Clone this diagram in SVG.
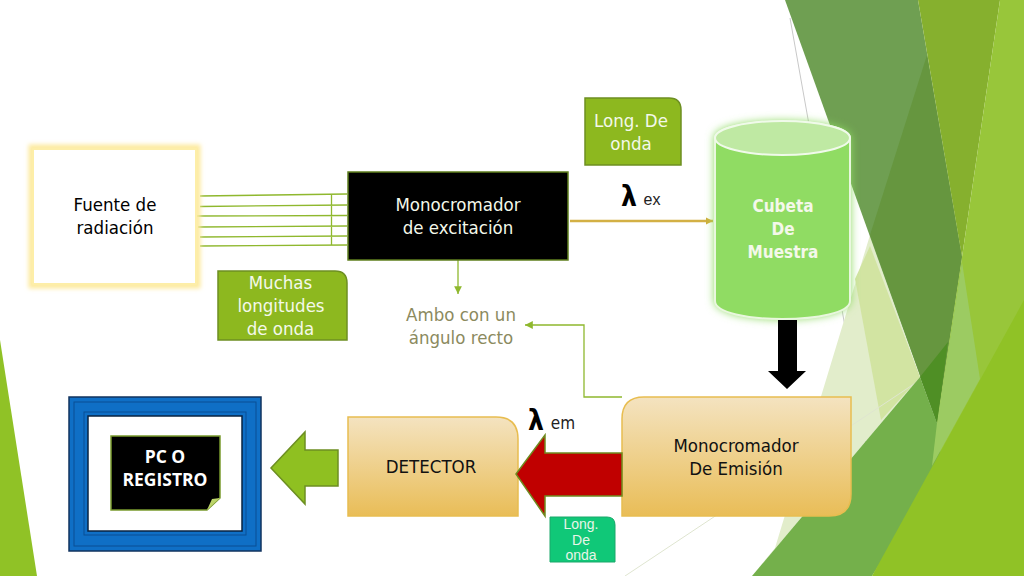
<svg xmlns="http://www.w3.org/2000/svg" width="1024" height="576" viewBox="0 0 1024 576">
<defs>
<style>
text{font-family:"DejaVu Sans Condensed","DejaVu Sans","Noto Sans",sans-serif;font-stretch:condensed;text-anchor:middle;font-size:18.500px}
.w{fill:#f4f8ea}.k{fill:#111}
.ln{stroke:#8fb82e;stroke-width:1.3;fill:none}
.gb{fill:#8db81f;stroke:#6d8f22;stroke-width:1.5}
.gold{fill:url(#gold);stroke:#e8bd50;stroke-width:1.5}
</style>
<linearGradient id="gold" x1="0" y1="0" x2="0" y2="1"><stop offset="0" stop-color="#f4e3c0"/><stop offset="1" stop-color="#e9bd57"/></linearGradient>
<filter id="glowY" x="-20%" y="-20%" width="140%" height="140%"><feGaussianBlur stdDeviation="2"/></filter>
<filter id="glowG" x="-20%" y="-20%" width="140%" height="140%"><feGaussianBlur stdDeviation="4"/></filter>
<marker id="ah" markerWidth="7" markerHeight="7" refX="6" refY="3" orient="auto"><path d="M0,0L6,3L0,6z" fill="#8fb82e"/></marker>
<marker id="ao" markerWidth="4" markerHeight="4" refX="3" refY="1.500" orient="auto"><path d="M0,0L3,1.500L0,3z" fill="#cfae3a"/></marker>
</defs>
<rect width="1024" height="576" fill="#fff"/>
<g id="background">
<path d="M0,340L37,576H0z" fill="#90c226"/>
<path d="M790,18L885,551" stroke="#c8c8c8" stroke-width="1" fill="none"/>
<path d="M870,235L920,377L752,576L775,548z" fill="#e2edcb"/>
<path d="M870,246L920,377L881,420L855,279z" fill="#d2e4a2"/>
<path d="M625,576L920,380" stroke="#dfe5d0" stroke-width="1" fill="none"/>
<path d="M785,0H918L962,257L937,423z" fill="#6f9f52"/>
<path d="M927,55L962,257L937,423L870,235z" fill="#66963f"/>
<path d="M918,0H1000L962,257z" fill="#86b02e"/>
<path d="M1000,0H1024V576H932L937,423L962,257z" fill="#98c63a"/>
<path d="M752,576L920,377L937,423L942,467L872,576z" fill="#74b04b"/>
<path d="M962,262L980,379L932,466L937,423z" fill="#9ccb62"/>
<path d="M920,377L948,342L937,423z" fill="#4f8f25"/>
<path d="M872,576L1024,300V576z" fill="#90c226"/>
</g>
<g id="connectors">
<g stroke="#8fb82e" stroke-width="1.3" fill="none">
<path d="M200,196L347,194M200,206.500L347,205M195,216L347,215.500M198,227L347,226M200,237L347,236M200,246L347,245M331.500,194V245"/>
</g>
<path class="ln" d="M458,260V294" marker-end="url(#ah)"/>
<path class="ln" d="M622,397H584V325H525" marker-end="url(#ah)"/>
<path d="M570,221H713" stroke="#d3b045" stroke-width="2.500" fill="none" marker-end="url(#ao)"/>
</g>
<g id="fuente">
<rect x="32" y="148" width="165" height="137" fill="none" stroke="#fdea9d" stroke-width="7" filter="url(#glowY)"/>
<rect x="33" y="149" width="163" height="135" fill="#fff" stroke="#fdeea8" stroke-width="2"/>
<text x="115" y="211">Fuente de</text><text x="115" y="234">radiación</text>
</g>
<g id="muchas">
<path class="gb" d="M218,271H335Q347,271 347,283V340H218z"/>
<text class="w" x="280.500" y="289">Muchas</text><text class="w" x="281" y="312">longitudes</text><text class="w" x="280.500" y="335">de onda</text>
</g>
<g id="mono-ex">
<rect x="348" y="172" width="220" height="88" fill="#000" stroke="#5f7f1e" stroke-width="1.500"/>
<text class="w" x="458" y="211">Monocromador</text><text class="w" x="458" y="234">de  excitación</text>
</g>
<g id="ambo">
<text x="461" y="321" fill="#8b8a5e">Ambo con un</text><text x="461" y="344" fill="#8b8a5e">ángulo recto</text>
</g>
<g id="long-ex">
<path class="gb" d="M585,98H669Q681,98 681,110V165H585z"/>
<text class="w" x="631" y="127">Long. De</text><text class="w" x="631" y="150">onda</text>
</g>
<g id="lambda-ex">
<text x="629" y="206" font-weight="bold" fill="#000" style="font-size:28px;font-family:'DejaVu Sans'">λ</text>
<text x="652" y="205" fill="#222" style="font-size:16px;font-family:'Liberation Sans',sans-serif">ex</text>
</g>
<g id="cubeta">
<path d="M714,138C714,115 851,115 851,138V300C851,326 714,326 714,300z" fill="#8fdc63" filter="url(#glowG)"/>
<path d="M715,138C715,116 850,116 850,138V301C850,325 715,325 715,301z" fill="#90dc63" stroke="#e9f7de" stroke-width="2"/>
<ellipse cx="782.500" cy="138" rx="67.500" ry="17" fill="#bfe9a3" stroke="#f0faea" stroke-width="2"/>
<g font-weight="bold" style="font-size:17px"><text class="w" style="font-size:17px" x="783" y="212">Cubeta</text><text class="w" style="font-size:17px" x="783" y="235">De</text><text class="w" style="font-size:17px" x="783" y="258">Muestra</text></g>
</g>
<g id="down-arrow"><path d="M778,320H797V371H806L787,389L768,371H778z" fill="#000"/></g>
<g id="mono-em">
<path class="gold" d="M644,397H851V494Q851,516 829,516H622V419Q622,397 644,397z"/>
<text x="736" y="452" class="k">Monocromador</text><text x="736" y="475" class="k">De Emisión</text>
</g>
<g id="detector">
<path class="gold" d="M348,417H496Q518,417 518,439V516H348z"/>
<text x="431" y="473" class="k">DETECTOR</text>
</g>
<g id="red-arrow"><path d="M622,453H545V435L516,474L545,516V496H622z" fill="#c00000" stroke="#6f8a1f" stroke-width="1.500"/></g>
<g id="lambda-em">
<text x="536" y="430" font-weight="bold" fill="#000" style="font-size:28px;font-family:'DejaVu Sans'">λ</text>
<text x="563" y="429" fill="#222" style="font-size:17px">em</text>
</g>
<g id="long-em">
<path d="M550,517H607Q615,517 615,525V562H550z" fill="#10c878" stroke="#1ba86a"/>
<text x="581" y="529" fill="#e8f5e8" style="font-size:14px;font-family:'Liberation Sans'">Long.</text><text x="581" y="545" fill="#e8f5e8" style="font-size:14px;font-family:'Liberation Sans'">De</text><text x="581" y="560" fill="#e8f5e8" style="font-size:14px;font-family:'Liberation Sans'">onda</text>
</g>
<g id="green-arrow"><path d="M338,450H305V432L271,468L305,504V486H338z" fill="#8fc021" stroke="#6d8f22" stroke-width="1.500"/></g>
<g id="pc">
<rect x="69" y="397" width="192" height="154" fill="#0f6fc6" stroke="#12335e" stroke-width="1.500"/>
<rect x="74" y="402" width="182" height="144" fill="none" stroke="#0a4f94" stroke-width="1"/>
<rect x="84" y="412" width="162" height="123" fill="none" stroke="#0a4f94" stroke-width="1"/>
<rect x="88" y="416" width="154" height="115" fill="#fff" stroke="#0a2340" stroke-width="1.500"/>
<path d="M111,436H220V498L207,510H111z" fill="#000" stroke="#7a9a2e" stroke-width="1.500"/>
<path d="M207,510L220,498L212,499z" fill="#bcd46a"/>
<text x="165" y="463" style="font-size:17.500px;font-family:'Open Sans',sans-serif;font-stretch:normal" font-weight="bold" fill="#fff">PC O</text>
<text x="165" y="486" style="font-size:17.500px;font-family:'Open Sans',sans-serif;font-stretch:normal" font-weight="bold" fill="#fff">REGISTRO</text>
</g>
</svg>
